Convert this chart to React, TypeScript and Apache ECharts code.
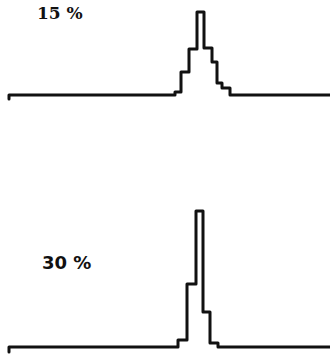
import React, { useEffect, useRef } from "react";
import * as echarts from "echarts";

// Top histogram (15 %): [left edge of step, height] in channel units
const topSteps: [number, number][] = [
  [0, -4], [0, 0], [166, 3], [172, 23], [180, 46], [188, 83], [195, 47],
  [203, 33], [208, 12], [213, 7], [221, 0], [321, 0],
];
// Bottom histogram (30 %)
const bottomSteps: [number, number][] = [
  [0, -5], [0, 0], [169, 7], [178, 63], [187, 136], [194, 35],
  [201, 4], [209, 0], [321, 0],
];
const labels = ["15 %", "30 %"];

export default function App() {
  const ref = useRef<HTMLDivElement>(null);
  useEffect(() => {
    if (!ref.current) return;
    const chart = echarts.init(ref.current, undefined, { renderer: "svg" });
    const lineStyle = { color: "#111", width: 3, join: "round" as const, cap: "round" as const };
    chart.setOption({
      animation: false,
      grid: [
        { left: 9, width: 321, top: 5, height: 95 },
        { left: 9, width: 321, top: 205, height: 147 },
      ],
      xAxis: [
        { type: "value", gridIndex: 0, min: 0, max: 321, show: false },
        { type: "value", gridIndex: 1, min: 0, max: 321, show: false },
      ],
      yAxis: [
        { type: "value", gridIndex: 0, min: -5, max: 90, show: false },
        { type: "value", gridIndex: 1, min: -5, max: 142, show: false },
      ],
      series: [
        {
          type: "line", xAxisIndex: 0, yAxisIndex: 0, step: "end", data: topSteps,
          symbol: "none", lineStyle, clip: false,
        },
        {
          type: "line", xAxisIndex: 1, yAxisIndex: 1, step: "end", data: bottomSteps,
          symbol: "none", lineStyle, clip: false,
        },
      ],
      graphic: [
        {
          type: "text", x: 37, y: 4,
          style: { text: labels[0], fill: "#111", font: "bold 17px 'DejaVu Serif'", textVerticalAlign: "top" },
        },
        {
          type: "text", x: 42, y: 253,
          style: { text: labels[1], fill: "#111", font: "bold 18px 'DejaVu Sans'", textVerticalAlign: "top" },
        },
      ],
    });
    return () => chart.dispose();
  }, []);
  return (
    <div
      ref={ref}
      style={{ position: "fixed", left: 0, top: 0, width: 330, height: 360, background: "#fff" }}
    />
  );
}
